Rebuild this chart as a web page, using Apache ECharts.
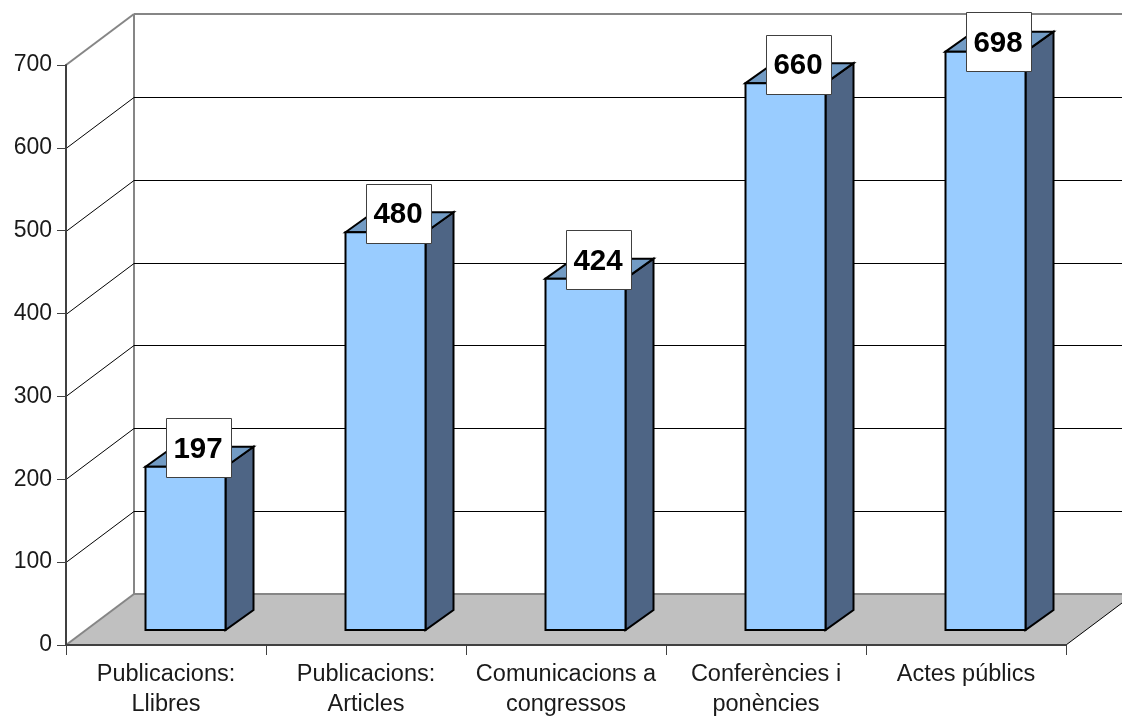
<!DOCTYPE html>
<html>
<head>
<meta charset="utf-8">
<style>html,body{margin:0;padding:0;background:#fff}#c{width:1122px;height:718px}</style>
<script src="https://cdn.jsdelivr.net/npm/echarts@6/dist/echarts.min.js"></script>
</head>
<body>
<div id="c"></div>
<script>
const categories = ['Publicacions:\nLlibres','Publicacions:\nArticles','Comunicacions a\ncongressos','Conferències i\nponències','Actes públics'];
const values = [197,480,424,660,698];
const gridValues = [100,200,300,400,500,600];

const FONT = '"Liberation Sans", Arial, sans-serif';
const WALL_DX = 68, WALL_DY = -51;
const BAR_DX = 28, BAR_DY = -20, BAR_SHIFT_X = 19.5, BAR_SHIFT_Y = -15, BAR_W = 80;
const BOX_W = 65, BOX_H = 59;

const chart = echarts.init(document.getElementById('c'), null, {renderer:'canvas'});

function renderWalls(params, api){
  const cs = params.coordSys;
  const x0 = cs.x, x1 = cs.x + cs.width;
  const y0 = api.coord([0,0])[1], yTop = api.coord([0,700])[1];
  const W = api.getWidth();
  const bx = x0 + WALL_DX;
  const grey = {stroke:'#868686', lineWidth:2, fill:null};
  return {type:'group', children:[
    {type:'polygon', shape:{points:[[x0,y0],[bx,y0+WALL_DY],[W,y0+WALL_DY],[W,y0+WALL_DY+9],[x1,y0]]}, style:{fill:'#c0c0c0'}},
    {type:'line', shape:{x1:bx,y1:y0+WALL_DY,x2:W,y2:y0+WALL_DY}, style:grey},
    {type:'line', shape:{x1:bx,y1:yTop+WALL_DY,x2:W,y2:yTop+WALL_DY}, style:grey},
    {type:'line', shape:{x1:bx,y1:yTop+WALL_DY,x2:bx,y2:y0+WALL_DY}, style:grey},
    {type:'line', shape:{x1:x0,y1:yTop,x2:bx,y2:yTop+WALL_DY}, style:grey},
    {type:'line', shape:{x1:x0,y1:y0,x2:bx,y2:y0+WALL_DY}, style:grey},
    {type:'line', shape:{x1:x1,y1:y0,x2:W,y2:y0+WALL_DY+9}, style:{stroke:'#000',lineWidth:1}}
  ]};
}
function renderGrid(params, api){
  const cs = params.coordSys;
  const y = Math.round(api.coord([0,api.value(1)])[1]) + 0.5;
  const x0 = cs.x, bx = x0 + WALL_DX;
  const st = {stroke:'#000', lineWidth:1};
  return {type:'group', children:[
    {type:'line', shape:{x1:x0,y1:y,x2:bx,y2:y+WALL_DY}, style:st},
    {type:'line', shape:{x1:bx,y1:y+WALL_DY,x2:api.getWidth(),y2:y+WALL_DY}, style:st}
  ]};
}
function renderBar(params, api){
  const p = api.coord([api.value(0), api.value(1)]);
  const base = api.coord([api.value(0), 0]);
  const l = p[0] + BAR_SHIFT_X - BAR_W/2, r = l + BAR_W;
  const t = p[1] + BAR_SHIFT_Y, b = base[1] + BAR_SHIFT_Y;
  const edge = {stroke:'#000', lineWidth:2, lineJoin:'miter'};
  const boxCx = p[0] + BAR_SHIFT_X + 12.5;
  const boxTop = Math.max(12, t - 19 - BOX_H/2);
  return {type:'group', children:[
    {type:'polygon', shape:{points:[[r,t],[r+BAR_DX,t+BAR_DY],[r+BAR_DX,b+BAR_DY],[r,b]]}, style:{fill:'#4e6585',...edge}},
    {type:'polygon', shape:{points:[[l,t],[l+BAR_DX,t+BAR_DY],[r+BAR_DX,t+BAR_DY],[r,t]]}, style:{fill:'#729bc4',...edge}},
    {type:'rect', shape:{x:l,y:t,width:BAR_W,height:b-t}, style:{fill:'#99ccff',...edge}},
    {type:'rect', shape:{x:Math.round(boxCx-BOX_W/2)+0.5,y:Math.round(boxTop)+0.5,width:BOX_W,height:BOX_H}, style:{fill:'#fff',stroke:'#404040',lineWidth:1}},
    {type:'text', style:{text:String(api.value(1)), x:boxCx, y:boxTop+BOX_H/2+2, align:'center', verticalAlign:'middle', font:'bold 29.5px '+FONT, fill:'#000'}}
  ]};
}

chart.setOption({
  animation:false,
  backgroundColor:'#fff',
  grid:{left:66,right:56,top:65,bottom:73,containLabel:false,outerBoundsMode:'none'},
  xAxis:{type:'category',data:categories,boundaryGap:true,z:5,
    axisLine:{show:true,onZero:false,lineStyle:{color:'#404040',width:2}},
    axisTick:{show:true,length:10,alignWithLabel:false,lineStyle:{color:'#404040',width:1}},
    axisLabel:{interval:0,margin:15,color:'#1a1a1a',fontFamily:FONT,fontSize:23.5,lineHeight:30,hideOverlap:false},
    splitLine:{show:false}},
  yAxis:{type:'value',min:0,max:700,interval:100,z:5,
    axisLine:{show:true,lineStyle:{color:'#404040',width:2}},
    axisTick:{show:true,length:9,lineStyle:{color:'#404040',width:1}},
    axisLabel:{margin:14,color:'#1a1a1a',fontFamily:FONT,fontSize:23},
    splitLine:{show:false}},
  series:[
    {type:'custom',name:'walls',z:1,silent:true,renderItem:renderWalls,data:[[0,0]]},
    {type:'custom',name:'grid',z:2,silent:true,renderItem:renderGrid,data:gridValues.map(v=>[0,v])},
    {type:'custom',name:'bars',z:6,silent:true,renderItem:renderBar,data:values.map((v,i)=>[i,v]),encode:{x:0,y:1}}
  ]
});
</script>
</body>
</html>
